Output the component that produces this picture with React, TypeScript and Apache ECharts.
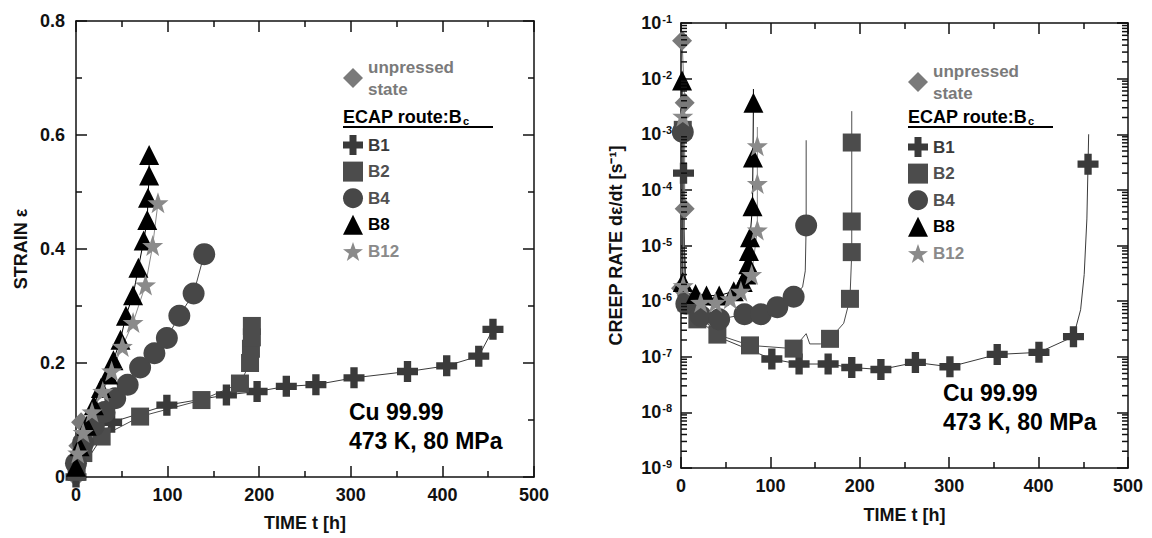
import React, { useEffect, useRef } from "react";
import * as echarts from "echarts";

// ---------- data ----------
// Left panel: strain vs time  [t (h), strain]
const strainUnpressed = [[0, 0], [2.5, 0.055], [5.5, 0.096]];
const strainB1 = [[0, 0], [38.9, 0.096], [99.2, 0.126], [164.2, 0.144], [197.7, 0.15], [229.6, 0.159], [261.9, 0.162], [303.5, 0.174], [361.9, 0.185], [404.7, 0.195], [439.7, 0.212], [455.2, 0.259]];
const strainB2 = [[0.7, 0.009], [8, 0.042], [28, 0.071], [70, 0.106], [137, 0.135], [179, 0.164], [190, 0.2], [191, 0.225], [192, 0.245], [192, 0.265]];
const strainB4 = [[0, 0.024], [7.8, 0.06], [19.5, 0.09], [31.1, 0.114], [42.8, 0.138], [56.4, 0.162], [70, 0.192], [85.6, 0.217], [99.2, 0.244], [112.8, 0.283], [128.4, 0.322], [140, 0.391]];
const strainB8 = [[0, 0.018], [3.9, 0.054], [11.7, 0.09], [19.5, 0.126], [27.2, 0.156], [35, 0.18], [40.9, 0.205], [48.6, 0.241], [54.5, 0.283], [62.3, 0.319], [68.1, 0.367], [73.9, 0.415], [77.8, 0.451], [78.6, 0.49], [79.8, 0.529], [79.8, 0.565]];
const strainB12 = [[1.9, 0.042], [7.8, 0.078], [17.5, 0.114], [29.2, 0.15], [38.9, 0.186], [50.6, 0.229], [62.3, 0.271], [75.9, 0.337], [83.7, 0.406], [89.5, 0.481]];

// Right panel: creep rate vs time  [t (h), rate (1/s)]
const rateUnpressedMarkers = [[1.2, 4.8e-2], [4.1, 3.7e-3], [4.1, 4.6e-5], [0, 1.7e-6]];
const rateUnpressedCurve = [[1.2, 4.8e-2], [4.1, 3.7e-3], [4.1, 4.6e-5], [0, 1.7e-6]];
const rateB1Markers = [[2.8, 2.0e-4], [101.6, 9.1e-8], [132.1, 7.4e-8], [164.6, 7.4e-8], [191, 6.4e-8], [223.6, 5.9e-8], [262.2, 7.9e-8], [300.8, 6.6e-8], [353.7, 1.1e-7], [400.4, 1.2e-7], [439, 2.3e-7], [455.3, 2.9e-4]];
const rateB1Curve = [[2, 1.0e-3], [2.8, 2.0e-4], [3.5, 1.0e-5], [5, 1.5e-6], [20, 5.5e-7], [50, 2.0e-7], [101.6, 9.1e-8], [132.1, 7.4e-8], [164.6, 7.4e-8], [191, 6.4e-8], [223.6, 5.9e-8], [262.2, 7.9e-8], [300.8, 6.6e-8], [353.7, 1.1e-7], [400.4, 1.2e-7], [439, 2.3e-7], [447, 7e-7], [451, 3e-6], [454, 3e-5], [455.3, 2.9e-4], [456, 1.0e-3]];
const rateB2Markers = [[2, 1.2e-3], [6.1, 9.5e-7], [18.3, 4.7e-7], [40.7, 2.5e-7], [77.2, 1.6e-7], [126, 1.4e-7], [166.7, 2.1e-7], [189, 1.1e-6], [191, 7.6e-6], [191, 2.7e-5], [191, 7.1e-4]];
const rateB2Curve = [[2, 1.2e-3], [3, 2e-5], [6.1, 9.5e-7], [18.3, 4.7e-7], [40.7, 2.5e-7], [77.2, 1.6e-7], [126, 1.4e-7], [140, 2.6e-7], [144, 1.7e-7], [156, 1.7e-7], [166.7, 2.1e-7], [182, 4e-7], [189, 1.1e-6], [191, 7.6e-6], [191, 2.7e-5], [191, 7.1e-4], [191, 2.6e-3]];
const rateB4Markers = [[2, 1.1e-3], [6, 9e-7], [22, 5.4e-7], [42.7, 4.7e-7], [71, 5.8e-7], [89.4, 5.8e-7], [107.7, 7.8e-7], [126, 1.2e-6], [140, 2.3e-5]];
const rateB4Curve = [[2, 1.1e-3], [3, 2e-5], [6, 9e-7], [22, 5.4e-7], [42.7, 4.7e-7], [71, 5.8e-7], [89.4, 5.8e-7], [107.7, 7.8e-7], [126, 1.2e-6], [136, 1.8e-6], [139, 3.5e-6], [140, 2.3e-5], [140, 7.8e-4]];
const rateB8Markers = [[1.2, 9.3e-3], [2, 2.2e-6], [16.3, 1.35e-6], [28.5, 1.26e-6], [42.7, 1.26e-6], [59, 1.5e-6], [69.1, 2.2e-6], [73.2, 3e-6], [75.2, 4.6e-6], [76, 8e-6], [77.2, 1.4e-5], [80, 5.1e-5], [80.5, 3.8e-4], [81, 3.7e-3]];
const rateB8Curve = [[1.2, 9.3e-3], [2, 2.2e-6], [16.3, 1.35e-6], [28.5, 1.26e-6], [42.7, 1.26e-6], [59, 1.5e-6], [69.1, 2.2e-6], [73.2, 3e-6], [75.2, 4.6e-6], [76, 8e-6], [77.2, 1.4e-5], [80, 5.1e-5], [80.5, 3.8e-4], [81, 3.7e-3], [81, 6.5e-3]];
const rateB12Markers = [[2, 2.1e-3], [2.5, 1.9e-6], [22, 9.5e-7], [38.6, 9.5e-7], [55, 1.1e-6], [67, 1.5e-6], [79, 3e-6], [85.4, 1.9e-5], [85.4, 1.3e-4], [85.4, 6.2e-4]];
const rateB12Curve = [[2, 2.1e-3], [2.5, 1.9e-6], [22, 9.5e-7], [38.6, 9.5e-7], [55, 1.1e-6], [67, 1.5e-6], [79, 3e-6], [85.4, 1.9e-5], [85.4, 1.3e-4], [85.4, 6.2e-4], [85.4, 1.35e-3]];

// axis structure
const timeTicks = [0, 100, 200, 300, 400, 500];
const strainTicks = [0, 0.2, 0.4, 0.6, 0.8];
const rateDecades = [-9, -8, -7, -6, -5, -4, -3, -2, -1];
const minorFactors = [2, 3, 4, 5, 6, 7, 8, 9];

const legendNames = ["B1", "B2", "B4", "B8", "B12"];
const annotationLines = ["Cu 99.99", "473 K, 80 MPa"];

// ---------- styles ----------
const FONT = '"Liberation Sans", Arial, Helvetica, sans-serif';
const AX = "#111111";
const PLUS = "path://M6.5,0H13.5V6.5H20V13.5H13.5V20H6.5V13.5H0V6.5H6.5Z";
const STAR = "path://M10,0L12.35,6.76L19.51,6.91L13.8,11.24L15.88,18.09L10,14L4.12,18.09L6.2,11.24L0.49,6.91L7.65,6.76Z";

const STYLE: Record<string, { symbol: string; color: string; text: string; size: number }> = {
  "unpressed state": { symbol: "diamond", color: "#7a7a7a", text: "#7a7a7a", size: 20 },
  B1: { symbol: PLUS, color: "#3a3a3a", text: "#3a3a3a", size: 21 },
  B2: { symbol: "rect", color: "#4c4c4c", text: "#505050", size: 18 },
  B4: { symbol: "circle", color: "#474747", text: "#505050", size: 22 },
  B8: { symbol: "triangle", color: "#000000", text: "#000000", size: 20 },
  B12: { symbol: STAR, color: "#8a8a8a", text: "#8a8a8a", size: 21 },
};

function seriesPair(name: string, markers: number[][], curve: number[][], idx: number) {
  const s = STYLE[name];
  return [
    {
      type: "line",
      name: name + " curve",
      xAxisIndex: idx,
      yAxisIndex: idx,
      data: curve,
      showSymbol: false,
      symbol: "none",
      lineStyle: { color: s.color, width: 1 },
      silent: true,
      z: 2,
    },
    {
      type: "scatter",
      name,
      xAxisIndex: idx,
      yAxisIndex: idx,
      data: markers,
      symbol: s.symbol,
      symbolSize: s.size,
      itemStyle: { color: s.color, opacity: 1 },
      silent: true,
      z: 3,
    },
  ];
}

function xAxes(grid: number) {
  const base = {
    type: "value",
    gridIndex: grid,
    min: timeTicks[0],
    max: timeTicks[timeTicks.length - 1],
    interval: 100,
    splitLine: { show: false },
    axisLine: { show: true, onZero: false, lineStyle: { color: AX, width: 1.5 } },
    axisTick: { show: true, inside: true, length: 11, lineStyle: { color: AX, width: 1.5 } },
    minorTick: { show: true, splitNumber: 2, length: 6, lineStyle: { color: AX, width: 1.5 } },
    minorSplitLine: { show: false },
  };
  return [
    {
      ...base,
      position: "bottom",
      axisLabel: { color: AX, fontFamily: FONT, fontWeight: "bold", fontSize: 18, margin: 9 },
      name: "TIME t [h]",
      nameLocation: "middle",
      nameGap: grid === 0 ? 37 : 38,
      nameTextStyle: { color: AX, fontFamily: FONT, fontWeight: "bold", fontSize: 18 },
    },
    { ...base, position: "top", axisLabel: { show: false } },
  ];
}

function strainYAxes() {
  const base = {
    type: "value",
    gridIndex: 0,
    min: strainTicks[0],
    max: strainTicks[strainTicks.length - 1],
    interval: 0.2,
    splitLine: { show: false },
    axisLine: { show: true, onZero: false, lineStyle: { color: AX, width: 1.5 } },
    axisTick: { show: true, inside: true, length: 11, lineStyle: { color: AX, width: 1.5 } },
    minorTick: { show: true, splitNumber: 2, length: 6, lineStyle: { color: AX, width: 1.5 } },
  };
  return [
    {
      ...base,
      position: "left",
      axisLabel: { color: AX, fontFamily: FONT, fontWeight: "bold", fontSize: 18, margin: 11 },
      name: "STRAIN ε",
      nameLocation: "middle",
      nameRotate: 90,
      nameGap: 46,
      nameTextStyle: { color: AX, fontFamily: FONT, fontWeight: "bold", fontSize: 18 },
    },
    { ...base, position: "right", axisLabel: { show: false } },
  ];
}

function rateYAxes() {
  const base = {
    type: "log",
    logBase: 10,
    gridIndex: 1,
    min: Math.pow(10, rateDecades[0]),
    max: Math.pow(10, rateDecades[rateDecades.length - 1]),
    interval: 1,
    splitLine: { show: false },
    axisLine: { show: true, onZero: false, lineStyle: { color: AX, width: 1.5 } },
    axisTick: { show: true, inside: true, length: 11, lineStyle: { color: AX, width: 1.5 } },
    minorTick: { show: false },
  };
  return [
    {
      ...base,
      position: "left",
      axisLabel: {
        margin: 9,
        formatter: (v: number) => `{b|10}{s|${Math.round(Math.log10(v))}}`,
        rich: {
          b: { color: AX, fontFamily: FONT, fontWeight: "bold", fontSize: 18 },
          s: { color: AX, fontFamily: FONT, fontWeight: "bold", fontSize: 11, verticalAlign: "top", padding: [0, 0, 8, 1] },
        },
      },
      name: "CREEP RATE dε/dt [s⁻¹]",
      nameLocation: "middle",
      nameRotate: 90,
      nameGap: 56,
      nameTextStyle: { color: AX, fontFamily: FONT, fontWeight: "bold", fontSize: 18 },
    },
    { ...base, position: "right", axisLabel: { show: false } },
  ];
}

const minorTickValues: number[][] = [];
rateDecades.slice(0, -1).forEach((d) =>
  minorFactors.forEach((f) => minorTickValues.push([0, f * Math.pow(10, d)]))
);

function legendFor(left: number, top1: number, top2: number) {
  const textStyle = { fontFamily: FONT, fontWeight: "bold", fontSize: 17 };
  return [
    {
      orient: "vertical",
      left,
      top: top1,
      itemWidth: 20,
      itemHeight: 20,
      selectedMode: false,
      padding: 0,
      formatter: () => "unpressed\nstate",
      textStyle: { ...textStyle, lineHeight: 22, color: STYLE["unpressed state"].text },
      data: [{ name: "unpressed state" }],
    },
    {
      orient: "vertical",
      left,
      top: top2,
      itemWidth: 20,
      itemHeight: 20,
      itemGap: 6.6,
      selectedMode: false,
      padding: 0,
      textStyle: { ...textStyle, lineHeight: 20 },
      data: legendNames.map((n) => ({ name: n, textStyle: { color: STYLE[n].text } })),
    },
  ];
}

function headerGraphic(x: number, y: number, w: number) {
  return [
    {
      type: "text",
      x,
      y,
      style: {
        text: "{a|ECAP route:B}{s|c}",
        verticalAlign: "middle",
        rich: {
          a: { fontFamily: FONT, fontWeight: "bold", fontSize: 18, fill: "#000", color: "#000" },
          s: { fontFamily: FONT, fontWeight: "bold", fontSize: 11, fill: "#000", color: "#000", verticalAlign: "bottom", padding: [8, 0, 0, 1] },
        },
      },
    },
    {
      type: "line",
      shape: { x1: x, y1: y + 10, x2: x + w, y2: y + 10 },
      style: { stroke: "#000", lineWidth: 2 },
    },
  ];
}

function annotation(x: number, y: number) {
  return annotationLines.map((t, i) => ({
    type: "text",
    x,
    y: y + i * 28.5,
    style: {
      text: t,
      fontFamily: FONT,
      fontWeight: "bold",
      fontSize: 23,
      fill: "#000",
      verticalAlign: "middle",
    },
  }));
}

export default function App() {
  const ref = useRef<HTMLDivElement>(null);
  useEffect(() => {
    if (!ref.current) return;
    const chart = echarts.init(ref.current, undefined, { renderer: "svg" });
    const option = {
      animation: false,
      backgroundColor: "#ffffff",
      grid: [
        { left: 76, top: 21, width: 458, height: 456, containLabel: false },
        { left: 681, top: 23, width: 447, height: 445, containLabel: false },
      ],
      xAxis: [...xAxes(0), ...xAxes(1)].map((a, i) => ({ ...a, gridIndex: i < 2 ? 0 : 1 })),
      yAxis: [...strainYAxes(), ...rateYAxes()],
      legend: [...legendFor(343, 56, 135), ...legendFor(908, 60, 137)],
      graphic: [
        ...headerGraphic(343, 117, 150),
        ...headerGraphic(908, 117, 145),
        ...annotation(349, 412),
        ...annotation(943, 393),
      ],
      series: [
        ...seriesPair("unpressed state", strainUnpressed, strainUnpressed, 0),
        ...seriesPair("B1", strainB1, strainB1, 0),
        ...seriesPair("B2", strainB2, strainB2, 0),
        ...seriesPair("B4", strainB4, strainB4, 0),
        ...seriesPair("B8", strainB8, strainB8, 0),
        ...seriesPair("B12", strainB12, strainB12, 0),
        ...seriesPair("unpressed state", rateUnpressedMarkers, rateUnpressedCurve, 2),
        ...seriesPair("B1", rateB1Markers, rateB1Curve, 2),
        ...seriesPair("B2", rateB2Markers, rateB2Curve, 2),
        ...seriesPair("B4", rateB4Markers, rateB4Curve, 2),
        ...seriesPair("B8", rateB8Markers, rateB8Curve, 2),
        ...seriesPair("B12", rateB12Markers, rateB12Curve, 2),
        {
          type: "custom",
          name: "minor log ticks",
          xAxisIndex: 2,
          yAxisIndex: 2,
          silent: true,
          clip: false,
          z: 5,
          data: minorTickValues,
          renderItem: (params: any, api: any) => {
            const v = api.value(1);
            const a = api.coord([timeTicks[0], v]);
            const b = api.coord([timeTicks[timeTicks.length - 1], v]);
            return {
              type: "group",
              children: [
                { type: "line", shape: { x1: a[0], y1: a[1], x2: a[0] + 6, y2: a[1] }, style: { stroke: AX, lineWidth: 1.5 } },
                { type: "line", shape: { x1: b[0] - 6, y1: b[1], x2: b[0], y2: b[1] }, style: { stroke: AX, lineWidth: 1.5 } },
              ],
            };
          },
        },
      ],
    };
    chart.setOption(option as any);
    return () => chart.dispose();
  }, []);
  return (
    <div
      ref={ref}
      style={{ position: "fixed", left: 0, top: 0, width: 1152, height: 538, background: "#fff" }}
    />
  );
}
